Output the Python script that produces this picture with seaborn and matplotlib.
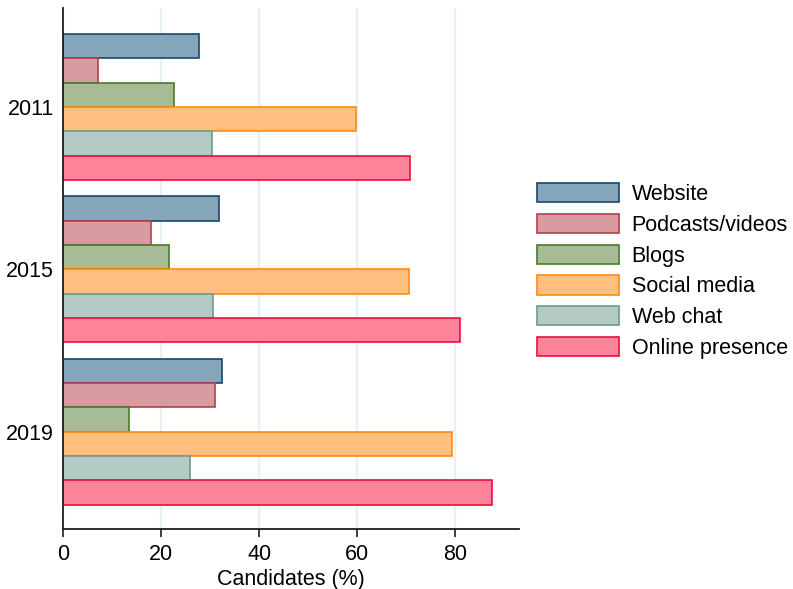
import matplotlib
matplotlib.use("Agg")
import matplotlib.pyplot as plt
import seaborn as sns
import pandas as pd

years = ["2011", "2015", "2019"]
categories = ["Website", "Podcasts/videos", "Blogs", "Social media", "Web chat", "Online presence"]
website = [27.7, 31.8, 32.3]
podcasts = [7.0, 17.9, 30.9]
blogs = [22.6, 21.6, 13.3]
social = [59.7, 70.6, 79.4]
webchat = [30.3, 30.5, 25.8]
online = [70.8, 80.9, 87.5]

fill_colors = ["#84a5ba", "#d89ca0", "#a6bb96", "#ffc07f", "#b3c9c3", "#fc8399"]
edge_colors = ["#1a476f", "#b0414a", "#4a7a2a", "#ff8a12", "#6e9a90", "#e8103f"]

series = [website, podcasts, blogs, social, webchat, online]
rows = []
for cat, vals in zip(categories, series):
    for y, v in zip(years, vals):
        rows.append({"year": y, "type": cat, "value": v})
df = pd.DataFrame(rows)

sns.set_style("white")
plt.rcParams["font.family"] = ["Liberation Sans", "DejaVu Sans"]
plt.rcParams["text.color"] = "black"
plt.rcParams["axes.labelcolor"] = "black"
plt.rcParams["xtick.color"] = "black"
plt.rcParams["ytick.color"] = "black"

FS = 15.5

fig = plt.figure(figsize=(7.93, 5.89), dpi=100)
ax = fig.add_axes([0.080, 0.1019, 0.5745, 0.8845])

sns.barplot(data=df, x="value", y="year", hue="type", order=years, hue_order=categories,
            palette=fill_colors, orient="h", width=0.9, saturation=1, ax=ax, legend=True)

for i, container in enumerate(ax.containers):
    for patch in container:
        patch.set_edgecolor(edge_colors[i])
        patch.set_linewidth(1.2)
        patch.set_facecolor(fill_colors[i])

ax.set_xlim(0, 93)
ax.set_ylim(2.6, -0.61)
ax.set_xticks([0, 20, 40, 60, 80])
ax.xaxis.grid(True, color="#e8f1f3", linewidth=1.6)
ax.yaxis.grid(False)
ax.set_axisbelow(True)
for s in ["top", "right"]:
    ax.spines[s].set_visible(False)
for s in ["left", "bottom"]:
    ax.spines[s].set_color("#1f1f1f")
    ax.spines[s].set_linewidth(1.3)
ax.tick_params(axis="x", length=6, width=1.2, color="#1f1f1f", labelsize=FS, pad=5, bottom=True)
ax.tick_params(axis="y", length=0, labelsize=FS, pad=7)
ax.set_xlabel("Candidates (%)", fontsize=FS, labelpad=3)
ax.set_ylabel("")

handles, labels = ax.get_legend_handles_labels()
for i, h in enumerate(handles):
    h.set_edgecolor(edge_colors[i])
    h.set_facecolor(fill_colors[i])
    h.set_linewidth(1.2)
ax.legend(handles, labels, loc="center left", bbox_to_anchor=(0.677, 0.540),
          bbox_transform=fig.transFigure, frameon=False, fontsize=FS,
          handlelength=3.8, handleheight=1.0, handletextpad=0.6, labelspacing=0.41,
          borderaxespad=0, borderpad=0)

fig.savefig("out.png", dpi=100)
